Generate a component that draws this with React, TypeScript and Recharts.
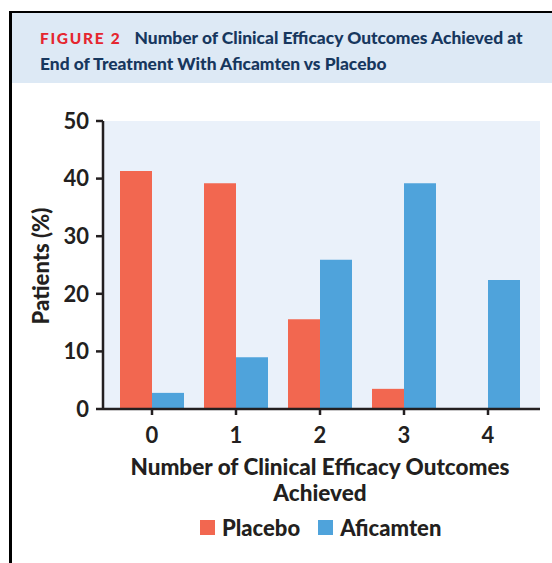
import { BarChart, Bar, XAxis, YAxis, CartesianGrid, Legend, Label } from 'recharts';

const categories = ['0', '1', '2', '3', '4'];
const placebo = [41.3, 39.2, 15.6, 3.5, 0];
const aficamten = [2.8, 9.0, 25.9, 39.2, 22.4];
const yTicks = [0, 10, 20, 30, 40, 50];
const seriesOrder = ['Placebo', 'Aficamten'];

const data = categories.map((name, i) => ({ name, placebo: placebo[i], aficamten: aficamten[i] }));

const ink = '#231f20';
const font = 'Lato, "Open Sans", sans-serif';

const renderLegend = (props: any) => {
    const items = [...(props.payload || [])].sort(
        (a: any, b: any) => seriesOrder.indexOf(a.value) - seriesOrder.indexOf(b.value)
    );
    return (
        <div style={{ display: 'flex', paddingLeft: 200, fontFamily: font, fontSize: 22, fontWeight: 900, color: ink }}>
            {items.map((entry: any, index: number) => (
                <div key={`item-${index}`} style={{ display: 'flex', alignItems: 'center', marginRight: 18 }}>
                    <span style={{ width: 15, height: 15, background: entry.color, display: 'inline-block', marginRight: 7 }} />
                    <span>{entry.value}</span>
                </div>
            ))}
        </div>
    );
};

export default function App() {
    return (
        <div style={{ position: 'absolute', left: 0, top: 0, width: 552, height: 563, background: '#fff', overflow: 'hidden' }}>
            <div style={{ position: 'absolute', left: 9, top: 11, width: 3, height: 552, background: '#000' }} />
            <div style={{ position: 'absolute', left: 9, top: 11, width: 543, height: 2, background: '#000' }} />
            <div style={{ position: 'absolute', left: 12, top: 13, width: 540, height: 70, background: '#dde9f5' }} />
            <div style={{ position: 'absolute', left: 40, top: 25, width: 510, whiteSpace: 'nowrap', fontFamily: font, fontSize: 17.4, fontWeight: 900, lineHeight: '25px', color: '#17375e' }}>
                <span style={{ color: '#e5262f', fontSize: 15.5, letterSpacing: 1.7, marginRight: 13 }}>FIGURE 2</span>
                Number of Clinical Efficacy Outcomes Achieved at
                <br />
                End of Treatment With Aficamten vs Placebo
            </div>
            <div style={{ position: 'absolute', left: 0, top: 0 }}>
                <BarChart width={552} height={563} data={data} margin={{ top: 121, right: 12, bottom: 0, left: 0 }} barCategoryGap={10} barGap={0}>
                    <CartesianGrid horizontal={false} vertical={false} fill="#eaf1fa" stroke="none" />
                    <XAxis
                        dataKey="name"
                        height={154}
                        padding={{ left: 7, right: 10 }}
                        axisLine={{ stroke: ink, strokeWidth: 2.5 }}
                        tickLine={{ stroke: ink, strokeWidth: 2.5 }}
                        tickSize={6}
                        tickMargin={12}
                        tick={{ fill: ink, fontSize: 22, fontFamily: font, fontWeight: 700 }}
                    >
                        <Label
                            content={() => (
                                <text textAnchor="middle" fill={ink} fontFamily={font} fontSize={22.5} fontWeight={900}>
                                    <tspan x={320} y={475}>Number of Clinical Efficacy Outcomes</tspan>
                                    <tspan x={320} y={501}>Achieved</tspan>
                                </text>
                            )}
                        />
                    </XAxis>
                    <YAxis
                        width={103}
                        domain={[0, 50]}
                        ticks={yTicks}
                        interval={0}
                        axisLine={{ stroke: ink, strokeWidth: 2.5 }}
                        tickLine={{ stroke: ink, strokeWidth: 2.5 }}
                        tickSize={7}
                        tickMargin={7}
                        tick={{ fill: ink, fontSize: 22, fontFamily: font, fontWeight: 700 }}
                    >
                        <Label
                            content={() => (
                                <text x={49} y={266} transform="rotate(-90 49 266)" textAnchor="middle" fill={ink} fontFamily={font} fontSize={22} fontWeight={900}>
                                    Patients (%)
                                </text>
                            )}
                        />
                    </YAxis>
                    <Legend verticalAlign="middle" align="center" layout="horizontal" wrapperStyle={{ top: 514, left: 0, width: 552 }} content={renderLegend} />
                    <Bar dataKey="placebo" name="Placebo" fill="#f26750" isAnimationActive={false} />
                    <Bar dataKey="aficamten" name="Aficamten" fill="#4fa3db" isAnimationActive={false} />
                </BarChart>
            </div>
        </div>
    );
}
